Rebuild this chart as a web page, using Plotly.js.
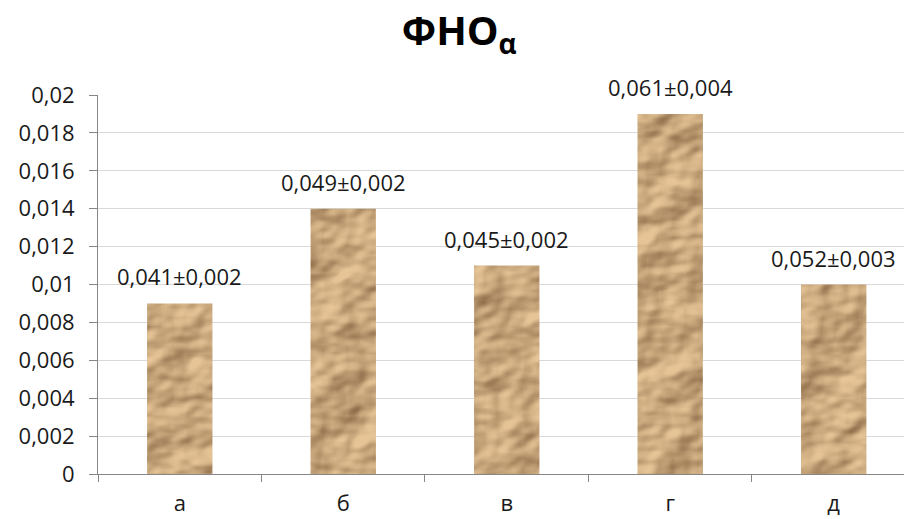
<!DOCTYPE html>
<html>
<head>
<meta charset="utf-8">
<script src="https://cdn.plot.ly/plotly-3.0.1.min.js"></script>
<style>html,body{margin:0;padding:0;background:#fff;}#chart{width:904px;height:519px;}</style>
</head>
<body>
<div id="chart"></div>
<script>
// ---- data ----
const categories = ['а', 'б', 'в', 'г', 'д'];
const values = [0.009, 0.014, 0.011, 0.019, 0.010];
const labels = ['0,041±0,002', '0,049±0,002', '0,045±0,002', '0,061±0,004', '0,052±0,003'];
const yTickVals = [0, 0.002, 0.004, 0.006, 0.008, 0.01, 0.012, 0.014, 0.016, 0.018, 0.02];
const yTickText = ['0', '0,002', '0,004', '0,006', '0,008', '0,01', '0,012', '0,014', '0,016', '0,018', '0,02'];
const chartTitle = 'ФНО<sub>α</sub>';

const FONT = '"Open Sans", "Noto Sans", sans-serif';

const trace = {
  type: 'bar',
  x: categories,
  y: values,
  width: 0.4,
  marker: { color: '#b08c62', line: { width: 0 } },
  hoverinfo: 'none'
};

const annotations = categories.map((c, i) => ({
  x: c, y: values[i], xref: 'x', yref: 'y',
  text: labels[i], showarrow: false,
  yanchor: 'middle', yshift: 27,
  font: { family: FONT, size: 22, color: '#1a1a1a' }
}));

const layout = {
  width: 904, height: 519,
  paper_bgcolor: '#fff', plot_bgcolor: '#fff',
  margin: { l: 98, r: 0, t: 95, b: 45 },
  showlegend: false,
  title: {
    text: chartTitle,
    font: { family: FONT, size: 40, color: '#000', weight: 'bold' },
    x: 0.508, xanchor: 'center', y: 0.94, yanchor: 'middle'
  },
  xaxis: {
    type: 'category',
    range: [-0.5, 4.43],
    showline: true, linecolor: '#868686', linewidth: 1,
    ticks: 'outside', tickson: 'boundaries', ticklen: 7, tickcolor: '#868686',
    showgrid: false, zeroline: false,
    tickfont: { family: FONT, size: 22, color: '#1a1a1a' },
    ticklabelstandoff: 10
  },
  yaxis: {
    range: [0, 0.02],
    tickvals: yTickVals, ticktext: yTickText,
    showline: true, linecolor: '#868686', linewidth: 1,
    ticks: 'outside', ticklen: 8, tickcolor: '#868686',
    showgrid: true, gridcolor: '#d9d9d9', gridwidth: 1,
    zeroline: false,
    tickfont: { family: FONT, size: 22, color: '#1a1a1a' },
    ticklabelstandoff: 10
  },
  annotations: annotations
};

Plotly.newPlot('chart', [trace], layout, { staticPlot: true, displayModeBar: false }).then(gd => {
  // crumpled paper texture for bars (visual styling only)
  const svg = gd.querySelector('svg.main-svg');
  const ns = 'http://www.w3.org/2000/svg';
  let defs = svg.querySelector('defs');
  if (!defs) { defs = document.createElementNS(ns, 'defs'); svg.insertBefore(defs, svg.firstChild); }
  const f = document.createElementNS(ns, 'filter');
  f.setAttribute('id', 'crumple');
  f.setAttribute('x', '0'); f.setAttribute('y', '0');
  f.setAttribute('width', '1'); f.setAttribute('height', '1');
  f.setAttribute('color-interpolation-filters', 'sRGB');
  f.innerHTML =
    '<feTurbulence type="fractalNoise" baseFrequency="0.02 0.028" numOctaves="3" seed="11" result="noise"/>' +
    '<feDiffuseLighting in="noise" lighting-color="#ffffff" surfaceScale="7" diffuseConstant="1.1" result="light">' +
    '<feDistantLight azimuth="225" elevation="45"/></feDiffuseLighting>' +
    '<feColorMatrix in="light" type="matrix" values="0.50 0 0 0 0.40  0.50 0 0 0 0.27  0.44 0 0 0 0.15  0 0 0 0 1" result="tan"/>' +
    '<feComposite in="tan" in2="SourceGraphic" operator="in"/>';
  defs.appendChild(f);
  gd.querySelectorAll('.bars .point path').forEach(p => p.setAttribute('filter', 'url(#crumple)'));
});
</script>
</body>
</html>
